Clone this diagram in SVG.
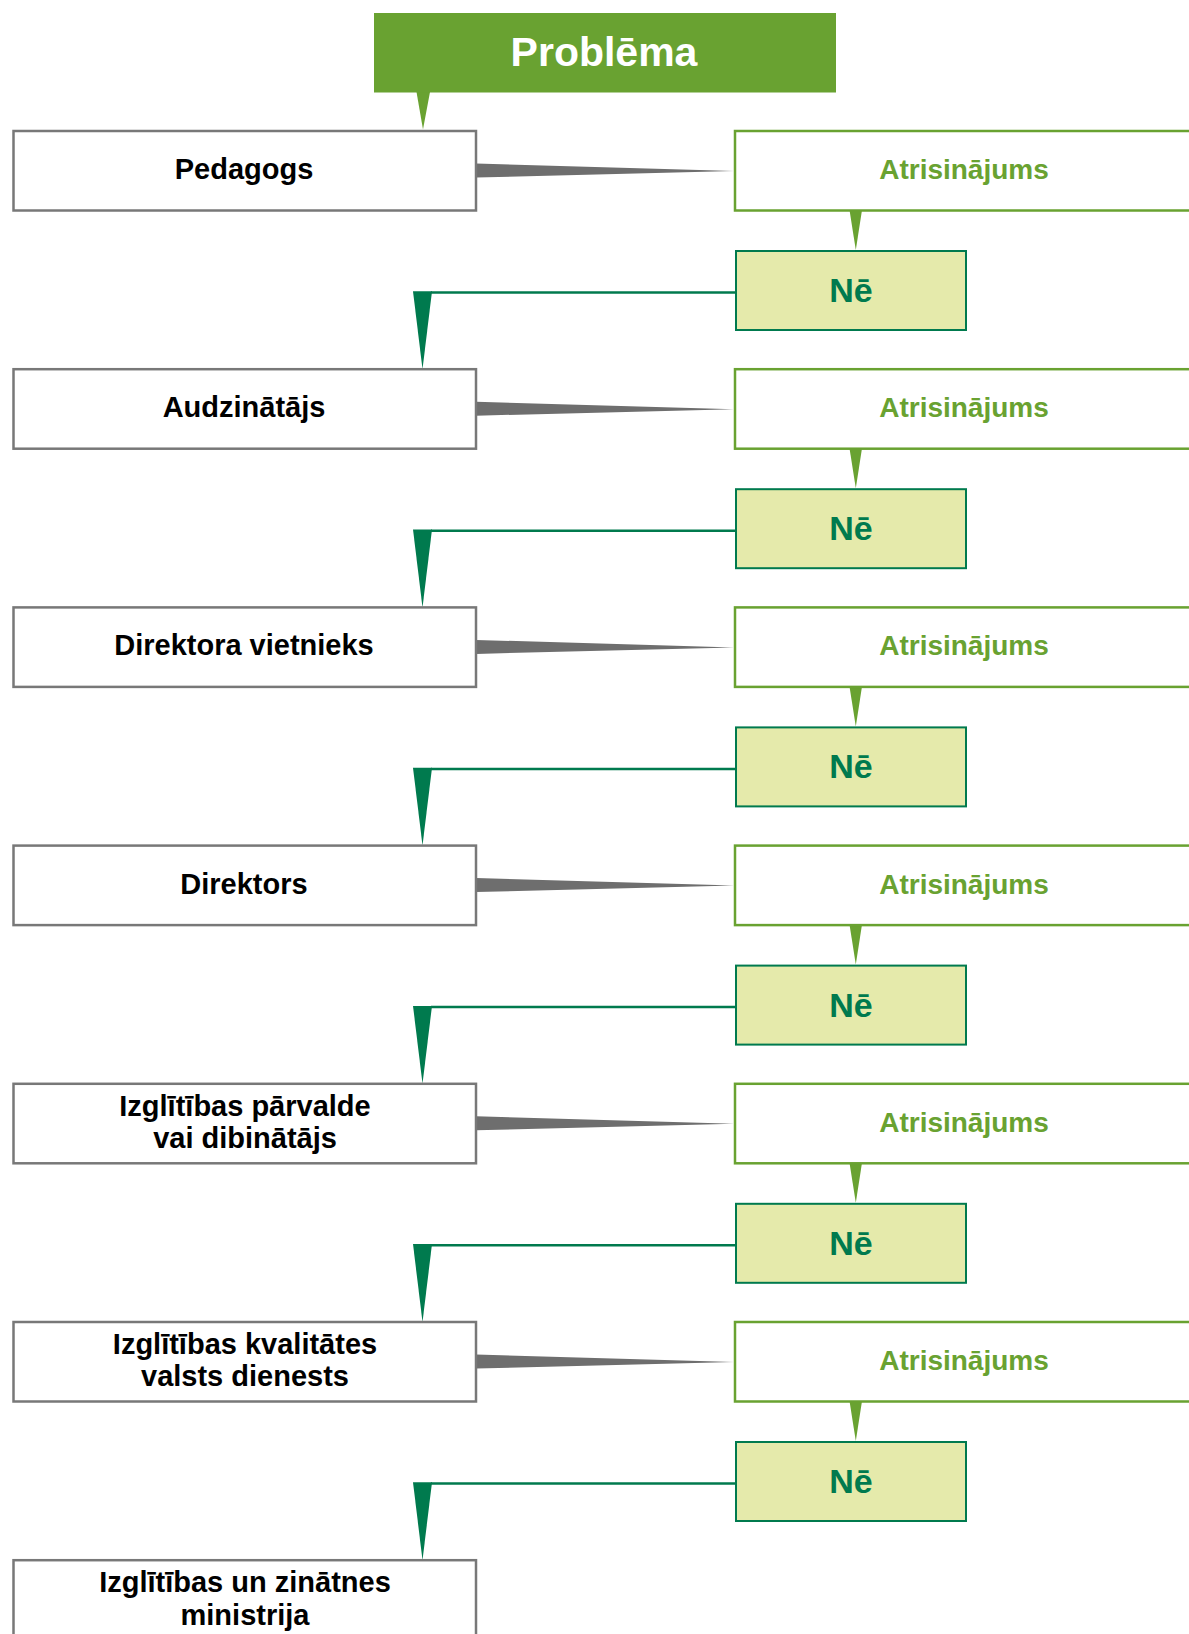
<svg xmlns="http://www.w3.org/2000/svg" width="1189" height="1634" viewBox="0 0 1189 1634">
<style>
text{font-family:"Liberation Sans",Arial,sans-serif;font-weight:bold;text-anchor:middle}
.who{fill:#fff;stroke:#787878;stroke-width:2.5}
.whot{fill:#000;font-size:29px}
.sol{fill:#fff;stroke:#69a231;stroke-width:2.5}
.solt{fill:#69a231;font-size:28px}
.no{fill:#e5eaab;stroke:#007a4e;stroke-width:2}
.not{fill:#007a4e;font-size:34px}
.wedge{fill:#6e6e6e}
.ltail{fill:#69a231}
.dline{stroke:#007a4e;stroke-width:2.5;fill:none}
.dtri{fill:#007a4e}
</style>
<g id="connectors">
<polygon class="ltail" points="416.5,92 430,92 423,129.5"/>
<polygon class="wedge" points="476,163.5 734,171 476,177.5"/>
<polygon class="ltail" points="849.5,210 862,210 855.8,250"/>
<line class="dline" x1="431" y1="292.5" x2="736" y2="292.5"/>
<polygon class="dtri" points="413,291.3 432,291.3 422.5,369.2"/>
<polygon class="wedge" points="476,401.7 734,409.2 476,415.7"/>
<polygon class="ltail" points="849.5,448.2 862,448.2 855.8,488.2"/>
<line class="dline" x1="431" y1="530.7" x2="736" y2="530.7"/>
<polygon class="dtri" points="413,529.5 432,529.5 422.5,607.4"/>
<polygon class="wedge" points="476,639.9 734,647.4 476,653.9"/>
<polygon class="ltail" points="849.5,686.4 862,686.4 855.8,726.4"/>
<line class="dline" x1="431" y1="768.9" x2="736" y2="768.9"/>
<polygon class="dtri" points="413,767.7 432,767.7 422.5,845.6"/>
<polygon class="wedge" points="476,878.1 734,885.6 476,892.1"/>
<polygon class="ltail" points="849.5,924.6 862,924.6 855.8,964.6"/>
<line class="dline" x1="431" y1="1007.1" x2="736" y2="1007.1"/>
<polygon class="dtri" points="413,1005.9 432,1005.9 422.5,1083.8"/>
<polygon class="wedge" points="476,1116.3 734,1123.8 476,1130.3"/>
<polygon class="ltail" points="849.5,1162.8 862,1162.8 855.8,1202.8"/>
<line class="dline" x1="431" y1="1245.3" x2="736" y2="1245.3"/>
<polygon class="dtri" points="413,1244.1 432,1244.1 422.5,1322"/>
<polygon class="wedge" points="476,1354.5 734,1362 476,1368.5"/>
<polygon class="ltail" points="849.5,1401 862,1401 855.8,1441"/>
<line class="dline" x1="431" y1="1483.5" x2="736" y2="1483.5"/>
<polygon class="dtri" points="413,1482.3 432,1482.3 422.5,1560.2"/>
</g>
<g id="problema">
<rect x="374" y="13" width="462" height="79.5" fill="#69a231"/>
<text x="604" y="66" fill="#fff" style="font-size:41px">Problēma</text>
</g>
<g id="pedagogs">
<rect class="who" x="13.5" y="131" width="462.5" height="79.5"/>
<text class="whot" x="244" y="179">Pedagogs</text>
</g>
<g id="atrisinajums1">
<rect class="sol" x="735" y="131" width="480" height="79.5"/>
<text class="solt" x="964" y="179">Atrisinājums</text>
</g>
<g id="ne1">
<rect class="no" x="736" y="251" width="230" height="79"/>
<text class="not" x="851" y="302">Nē</text>
</g>
<g id="audzinatajs">
<rect class="who" x="13.5" y="369.2" width="462.5" height="79.5"/>
<text class="whot" x="244" y="417.2">Audzinātājs</text>
</g>
<g id="atrisinajums2">
<rect class="sol" x="735" y="369.2" width="480" height="79.5"/>
<text class="solt" x="964" y="417.2">Atrisinājums</text>
</g>
<g id="ne2">
<rect class="no" x="736" y="489.2" width="230" height="79"/>
<text class="not" x="851" y="540.2">Nē</text>
</g>
<g id="direktora-vietnieks">
<rect class="who" x="13.5" y="607.4" width="462.5" height="79.5"/>
<text class="whot" x="244" y="655.4">Direktora vietnieks</text>
</g>
<g id="atrisinajums3">
<rect class="sol" x="735" y="607.4" width="480" height="79.5"/>
<text class="solt" x="964" y="655.4">Atrisinājums</text>
</g>
<g id="ne3">
<rect class="no" x="736" y="727.4" width="230" height="79"/>
<text class="not" x="851" y="778.4">Nē</text>
</g>
<g id="direktors">
<rect class="who" x="13.5" y="845.6" width="462.5" height="79.5"/>
<text class="whot" x="244" y="893.6">Direktors</text>
</g>
<g id="atrisinajums4">
<rect class="sol" x="735" y="845.6" width="480" height="79.5"/>
<text class="solt" x="964" y="893.6">Atrisinājums</text>
</g>
<g id="ne4">
<rect class="no" x="736" y="965.6" width="230" height="79"/>
<text class="not" x="851" y="1016.6">Nē</text>
</g>
<g id="izglitibas-parvalde">
<rect class="who" x="13.5" y="1083.8" width="462.5" height="79.5"/>
<text class="whot" x="245" y="1115.5">Izglītības pārvalde</text>
<text class="whot" x="245" y="1147.5">vai dibinātājs</text>
</g>
<g id="atrisinajums5">
<rect class="sol" x="735" y="1083.8" width="480" height="79.5"/>
<text class="solt" x="964" y="1131.8">Atrisinājums</text>
</g>
<g id="ne5">
<rect class="no" x="736" y="1203.8" width="230" height="79"/>
<text class="not" x="851" y="1254.8">Nē</text>
</g>
<g id="ikvd">
<rect class="who" x="13.5" y="1322" width="462.5" height="79.5"/>
<text class="whot" x="245" y="1353.7">Izglītības kvalitātes</text>
<text class="whot" x="245" y="1385.7">valsts dienests</text>
</g>
<g id="atrisinajums6">
<rect class="sol" x="735" y="1322" width="480" height="79.5"/>
<text class="solt" x="964" y="1370">Atrisinājums</text>
</g>
<g id="ne6">
<rect class="no" x="736" y="1442" width="230" height="79"/>
<text class="not" x="851" y="1493">Nē</text>
</g>
<g id="izm">
<rect class="who" x="13.5" y="1560.2" width="462.5" height="79.5"/>
<text class="whot" x="245" y="1591.5">Izglītības un zinātnes</text>
<text class="whot" x="245" y="1624.5">ministrija</text>
</g>
</svg>
